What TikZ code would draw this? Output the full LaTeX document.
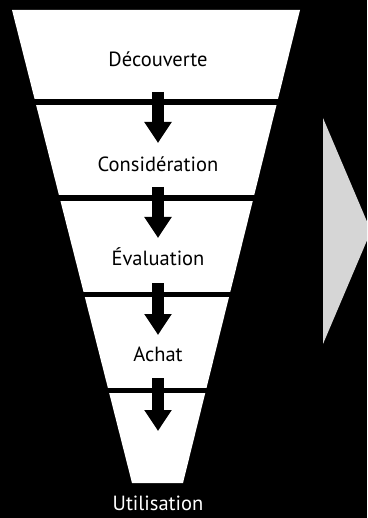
\documentclass[tikz,border=0pt]{standalone}
\usepackage{fontspec}
\setmainfont{PT Sans}
\usetikzlibrary{arrows.meta}
\definecolor{lightgrey}{HTML}{D6D6D6}
\tikzset{
  label text/.style={font=\fontsize{20.5}{24}\selectfont, anchor=base, inner sep=0pt},
  stagegap/.style={fill=black, draw=none},
  flowarrow/.style={line width=12pt, -{Triangle[width=26pt,length=21pt]}, black},
}
\begin{document}
\begin{tikzpicture}[x=1pt,y=-1pt]
\fill[black] (0,0) rectangle (367,518);
\useasboundingbox (0,0) rectangle (367,518);
% funnel
\fill[white] (12,10) -- (300,10) -- (183,483) -- (132,483) -- cycle;
% gaps between stages
\fill[stagegap] (0,99.5) rectangle (367,105.5);
\fill[stagegap] (0,195.5) rectangle (367,201);
\fill[stagegap] (0,291.5) rectangle (367,297);
\fill[stagegap] (0,387.5) rectangle (367,393);
% grey triangle
\begin{scope}
\clip (0,0) rectangle (367,518);
\fill[lightgrey] (323,118) -- (371,231) -- (323,344) -- cycle;
\end{scope}
% labels
\node[label text, text=black] (s1) at (158,67) {Découverte};
\node[label text, text=black] (s2) at (158,172) {Considération};
\node[label text, text=black] (s3) at (158,265) {Évaluation};
\node[label text, text=black] (s4) at (158,361.5) {Achat};
\node[label text, text=white] (s5) at (158,510) {Utilisation};
% arrows
\coordinate (a1s) at (158,92);  \coordinate (a1e) at (158,143);
\coordinate (a2s) at (158,187); \coordinate (a2e) at (158,238);
\coordinate (a3s) at (158,283); \coordinate (a3e) at (158,335);
\coordinate (a4s) at (158,378); \coordinate (a4e) at (158,431);
\draw[flowarrow] (a1s) -- (a1e);
\draw[flowarrow] (a2s) -- (a2e);
\draw[flowarrow] (a3s) -- (a3e);
\draw[flowarrow] (a4s) -- (a4e);
\end{tikzpicture}
\end{document}
